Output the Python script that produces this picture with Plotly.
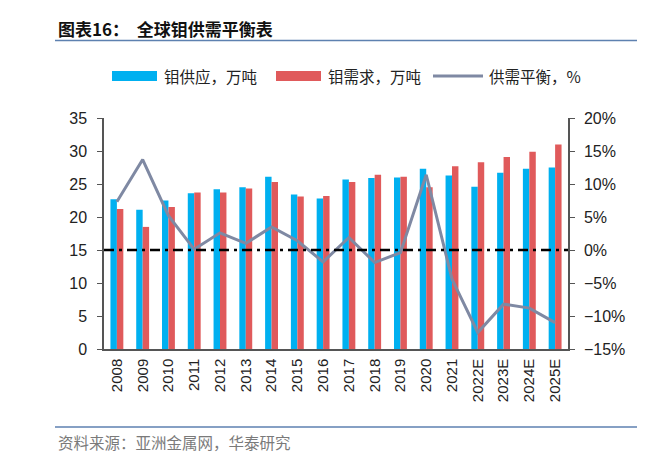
import plotly.graph_objects as go

years = ["2008", "2009", "2010", "2011", "2012", "2013", "2014", "2015", "2016",
         "2017", "2018", "2019", "2020", "2021", "2022E", "2023E", "2024E", "2025E"]
supply = [22.7, 21.1, 22.5, 23.6, 24.2, 24.5, 26.1, 23.4, 22.8,
          25.7, 25.9, 26.0, 27.3, 26.3, 24.6, 26.7, 27.3, 27.5]
demand = [21.2, 18.5, 21.5, 23.7, 23.7, 24.3, 25.3, 23.1, 23.2,
          25.3, 26.4, 26.1, 24.5, 27.7, 28.3, 29.1, 29.9, 31.0]
balance = [7.3, 13.7, 5.2, 0.1, 2.6, 1.0, 3.5, 1.4, -1.8,
           1.9, -1.9, -0.4, 11.4, -4.4, -12.5, -8.2, -8.8, -11.0]

names = ["钼供应，万吨", "钼需求，万吨", "供需平衡，%"]
title = "图表16：  全球钼供需平衡表"
source = "资料来源：亚洲金属网，华泰研究"

BLUE = "#00B0F0"
RED = "#E05A5B"
GRAY = "#7F89A3"
CJK = "Noto Sans CJK SC"
NUM = "Liberation Sans, Arial, sans-serif"

# page body has an 8px margin; compensate so the figure fills the window
OFF = 8
W, H = 660 - OFF, 465 - OFF
ml, mr, mt, mb = 104 - OFF, 92, 118 - OFF, 116
ph = H - mt - mb
pw = W - ml - mr

def px_x(x):
    return (x - OFF - ml) / pw

def px_y(y):
    return (H + OFF - mb - y) / ph

fig = go.Figure()
fig.add_trace(go.Bar(x=years, y=supply, name=names[0], marker_color=BLUE,
                     marker_line_width=0))
fig.add_trace(go.Bar(x=years, y=demand, name=names[1], marker_color=RED,
                     marker_line_width=0))
fig.add_trace(go.Scatter(x=years, y=balance, name=names[2], yaxis="y2",
                         mode="lines", line=dict(color=GRAY, width=3)))

shapes = [
    dict(type="line", xref="paper", x0=0, x1=1, yref="y2", y0=0, y1=0,
         line=dict(color="black", width=2.5, dash="10px,5px,3px,5px")),
    dict(type="line", xref="paper", yref="paper", x0=px_x(55), x1=px_x(637),
         y0=px_y(40.5), y1=px_y(40.5), line=dict(color="#5E81B0", width=1.5)),
    dict(type="line", xref="paper", yref="paper", x0=px_x(55), x1=px_x(637),
         y0=px_y(427), y1=px_y(427), line=dict(color="#5E81B0", width=1.5)),
    dict(type="rect", xref="paper", yref="paper", x0=px_x(112), x1=px_x(157),
         y0=px_y(81), y1=px_y(71), fillcolor=BLUE, line_width=0),
    dict(type="rect", xref="paper", yref="paper", x0=px_x(276), x1=px_x(321),
         y0=px_y(81), y1=px_y(71), fillcolor=RED, line_width=0),
    dict(type="line", xref="paper", yref="paper", x0=px_x(433), x1=px_x(483),
         y0=px_y(76), y1=px_y(76), line=dict(color=GRAY, width=3)),
]

annotations = [
    dict(text=title, xref="paper", yref="paper", x=px_x(56), y=px_y(28),
         xanchor="left", yanchor="middle", showarrow=False,
         font=dict(family=CJK, size=17, color="#111111", weight="bold")),
    dict(text=source, xref="paper", yref="paper", x=px_x(56), y=px_y(442),
         xanchor="left", yanchor="middle", showarrow=False,
         font=dict(family=CJK, size=15.5, color="#7a7a7a")),
    dict(text=names[0], xref="paper", yref="paper", x=px_x(162), y=px_y(76),
         xanchor="left", yanchor="middle", showarrow=False,
         font=dict(family=CJK, size=15.5, color="#222222")),
    dict(text=names[1], xref="paper", yref="paper", x=px_x(326), y=px_y(76),
         xanchor="left", yanchor="middle", showarrow=False,
         font=dict(family=CJK, size=15.5, color="#222222")),
    dict(text=names[2], xref="paper", yref="paper", x=px_x(487), y=px_y(76),
         xanchor="left", yanchor="middle", showarrow=False,
         font=dict(family=CJK, size=15.5, color="#222222")),
]

axis_col = "#555555"
fig.update_layout(
    width=W, height=H,
    margin=dict(l=ml, r=mr, t=mt, b=mb, pad=0),
    paper_bgcolor="white", plot_bgcolor="white",
    showlegend=False,
    barmode="group", bargap=0.5, bargroupgap=0,
    font=dict(family=NUM, size=15, color="#222222"),
    xaxis=dict(type="category", showgrid=False, showline=True, linecolor=axis_col,
               linewidth=1.5, ticks="", tickangle=-90, ticklabelstandoff=2,
               tickfont=dict(family=NUM, size=15, color="#222222")),
    yaxis=dict(range=[0, 35], dtick=5, showgrid=False, showline=True,
               linecolor=axis_col, linewidth=1.5, ticks="outside", ticklen=5,
               tickcolor=axis_col, zeroline=False, ticklabelstandoff=7,
               tickfont=dict(family=NUM, size=16, color="#222222")),
    yaxis2=dict(range=[-15, 20], dtick=5, overlaying="y", side="right",
                showgrid=False, showline=True, linecolor=axis_col, linewidth=1.5,
                ticks="outside", ticklen=5, tickcolor=axis_col, zeroline=False,
                ticksuffix="%", ticklabelstandoff=6,
                tickfont=dict(family=NUM, size=16, color="#222222")),
    shapes=shapes,
    annotations=annotations,
)

fig.write_html("out.html")
